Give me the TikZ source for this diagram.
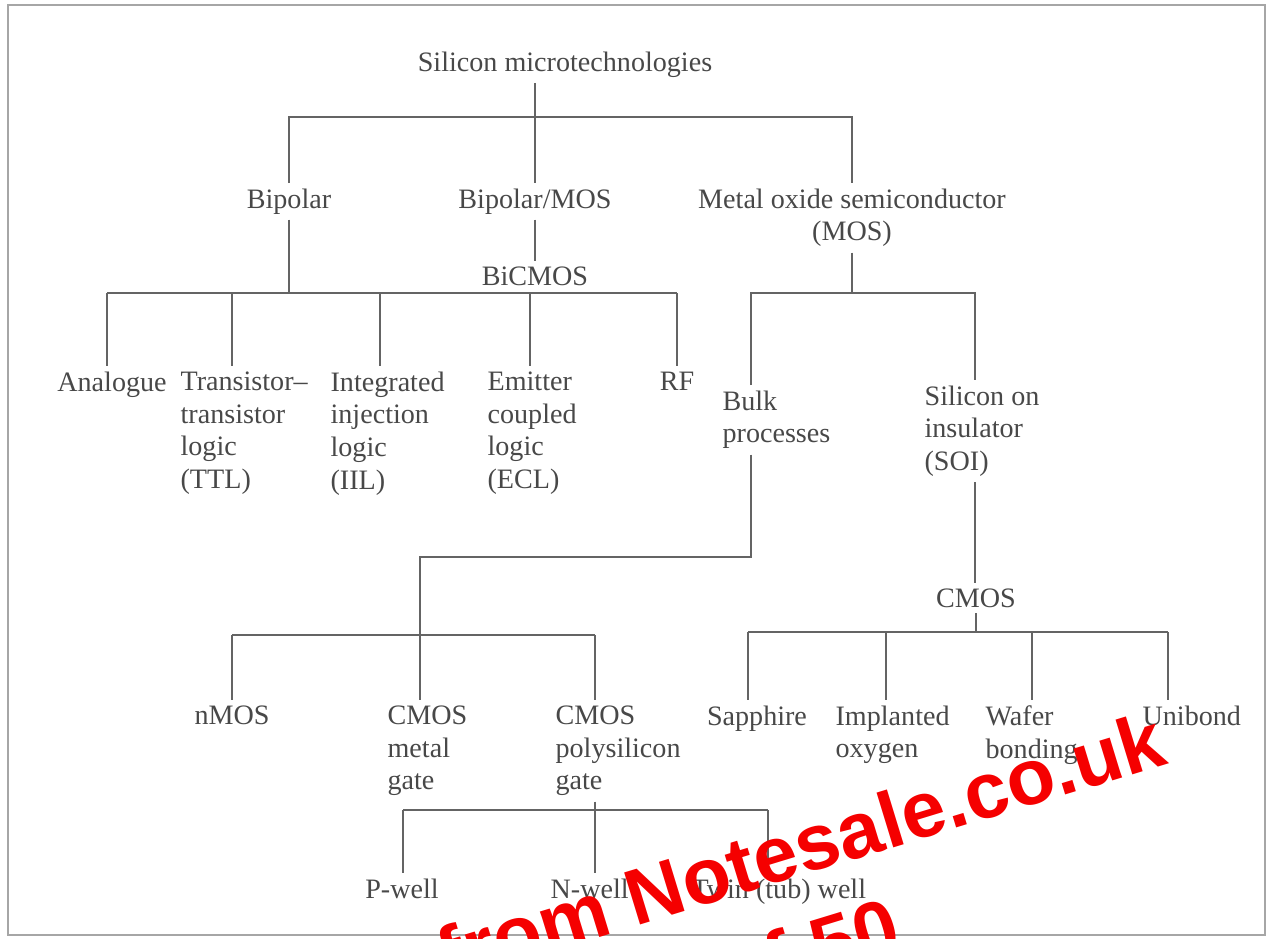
\documentclass[tikz,border=0pt]{standalone}
\usepackage{fontspec}
\setmainfont{Liberation Serif}
\newfontfamily\wmfont{Liberation Sans}
\usetikzlibrary{calc}
\definecolor{inkgray}{RGB}{72,72,72}
\definecolor{wiregray}{RGB}{100,100,100}
\definecolor{wmred}{RGB}{245,0,0}

\begin{document}
\begin{tikzpicture}[
    x=0.02cm, y=-0.02cm,
    font=\fontsize{16}{18.7}\selectfont,
    term/.style={inner sep=3pt, text=inkgray, align=left},
    wire/.style={draw=wiregray, line width=1.1pt},
    stamp/.style={text=wmred, font=\wmfont\bfseries\fontsize{45}{50}\selectfont, rotate=17, inner sep=0pt},
  ]
  \useasboundingbox (0,0) rectangle (1269,938);
  \clip (0,0) rectangle (1269,938);
  \draw[black!35, line width=0.8pt] (8,5) rectangle (1265,935);

  % Level 0 / 1
  \node[term, anchor=north] (root)   at (565,46)  {Silicon microtechnologies};
  \node[term, anchor=north] (bip)    at (289,183) {Bipolar};
  \node[term, anchor=north] (bm)     at (535,183) {Bipolar/MOS};
  \node[term, anchor=north, align=center] (mos) at (852,183) {Metal oxide semiconductor\\(MOS)};
  \node[term, anchor=north] (bicmos) at (535,261) {BiCMOS};

  % Bipolar family
  \node[term, anchor=north]      (ana) at (112,366) {Analogue};
  \node[term, anchor=north west] (ttl) at (175,366) {Transistor--\\transistor\\logic\\(TTL)};
  \node[term, anchor=north west] (iil) at (325,366) {Integrated\\injection\\logic\\(IIL)};
  \node[term, anchor=north west] (ecl) at (482,366) {Emitter\\coupled\\logic\\(ECL)};
  \node[term, anchor=north]      (rf)  at (677,366) {RF};

  % MOS family
  \node[term, anchor=north west] (bulk)  at (717,385) {Bulk\\processes};
  \node[term, anchor=north west] (soi)   at (919,380) {Silicon on\\insulator\\(SOI)};
  \node[term, anchor=north]      (cmos2) at (976,583) {CMOS};

  % Bulk processes
  \node[term, anchor=north]      (nmos) at (232,700) {nMOS};
  \node[term, anchor=north west] (cmg)  at (382,700) {CMOS\\metal\\gate};
  \node[term, anchor=north west] (cpg)  at (550,700) {CMOS\\polysilicon\\gate};

  % SOI
  \node[term, anchor=north]      (sap) at (757,700)  {Sapphire};
  \node[term, anchor=north west] (imp) at (830,700)  {Implanted\\oxygen};
  \node[term, anchor=north west] (waf) at (980,700)  {Wafer\\bonding};
  \node[term, anchor=north west] (uni) at (1137,700) {Unibond};

  % Wells
  \node[term, anchor=north]      (pwell) at (402,873) {P-well};
  \node[term, anchor=north west] (nwell) at (545,873) {N-well};
  \node[term, anchor=north west] (twin)  at (686,873) {Twin (tub) well};

  % top split
  \coordinate (top) at (535,117);
  \draw[wire] (root.south -| top) -- (bm.north);
  \draw[wire] (bip.north) |- (top) -| (mos.north);
  \draw[wire] (bm.south) -- (bicmos.north);

  % bipolar split
  \coordinate (kbip) at (289,293);
  \draw[wire] (bip.south) -- (kbip);
  \foreach \nd/\x in {ana/107, ttl/232, iil/380, ecl/530, rf/677}{
    \coordinate (k\nd) at (\x,293);
    \draw[wire] (k\nd) -- (k\nd |- \nd.north);
  }
  \draw[wire] (kana) -- (krf);

  % MOS split
  \coordinate (kbulk) at (751,293);
  \coordinate (ksoi) at (975,293);
  \draw[wire] (mos.south) -- (mos.south |- kbulk);
  \draw[wire] (kbulk |- bulk.north) -- (kbulk) -- (ksoi) -- (ksoi |- soi.north);

  % bulk split
  \coordinate (bend) at (751,557);
  \coordinate (kcmg) at (420,635);
  \draw[wire] (bend |- bulk.south) -- (bend) -| (kcmg |- cmg.north);
  \foreach \nd/\x in {nmos/232, cpg/595}{
    \coordinate (k\nd) at (\x,635);
    \draw[wire] (k\nd) -- (k\nd |- \nd.north);
  }
  \draw[wire] (knmos) -- (kcpg);

  % SOI split
  \draw[wire] (ksoi |- soi.south) -- (ksoi |- cmos2.north);
  \foreach \nd/\x in {sap/748, imp/886, waf/1032, uni/1168}{
    \coordinate (k\nd) at (\x,632);
    \draw[wire] (k\nd) -- (k\nd |- \nd.north);
  }
  \draw[wire] (cmos2.south) -- (cmos2.south |- ksap);
  \draw[wire] (ksap) -- (kuni);

  % wells split
  \foreach \nd/\x in {pwell/403, nwell/595, twin/768}{
    \coordinate (k\nd) at (\x,810);
    \draw[wire] (k\nd) -- (k\nd |- \nd.north);
  }
  \draw[wire] (knwell |- cpg.south) -- (knwell);
  \draw[wire] (kpwell) -- (ktwin);

  % stamp
  \node[stamp, anchor=base east] (wm1) at (1170,763) {from Notesale.co.uk};
  \node[stamp, anchor=base east] (wm2) at (905,950) {Page 5 of 50};
\end{tikzpicture}
\end{document}
